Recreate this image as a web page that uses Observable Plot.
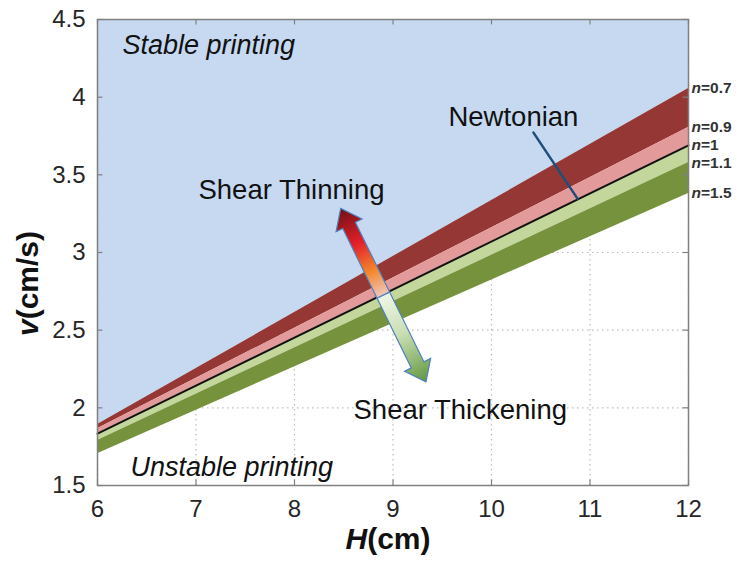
<!DOCTYPE html>
<html><head><meta charset="utf-8">
<script src="https://cdn.jsdelivr.net/npm/d3@7"></script>
<script src="https://cdn.jsdelivr.net/npm/@observablehq/plot@0.6"></script>
<style>
body{margin:0;background:#fff;}
#chart{width:739px;height:561px;}
</style>
</head><body><div id="chart"></div>
<script>
// ---- data ----
const H = [6, 12];                       // cm
const vN07 = [1.892, 4.056];             // n = 0.7
const vN09 = [1.866, 3.805];             // n = 0.9
const vN10 = [1.834, 3.689];             // n = 1 (Newtonian)
const vN11 = [1.789, 3.579];             // n = 1.1
const vN15 = [1.705, 3.380];             // n = 1.5
const nLabels = ["n=0.7", "n=0.9", "n=1", "n=1.1", "n=1.5"];
const xTicks = [6, 7, 8, 9, 10, 11, 12];
const yTicks = [1.5, 2, 2.5, 3, 3.5, 4, 4.5];
const yTickLabels = ["1.5", "2", "2.5", "3", "3.5", "4", "4.5"];
const vTop = 4.5;
const vBottom = 1.5;

const annoText = ["Stable printing", "Unstable printing", "Newtonian", "Shear Thinning", "Shear Thickening"];
const annoH = [6.254, 6.335, 9.563, 7.025, 8.599];
const annoV = [4.281, 1.564, 3.817, 3.347, 1.931];
const annoItalic = [true, true, false, false, false];

const pointerH = [10.426, 10.873];
const pointerV = [3.772, 3.347];

const arrowH = [8.474, 8.907, 9.340];   // top tip, middle, bottom tip
const arrowV = [3.281, 2.722, 2.164];

// ---- tables ----
const bands = H.map((h, i) => ({H: h, v07: vN07[i], v09: vN09[i], v10: vN10[i], v11: vN11[i], v15: vN15[i]}));
const seriesRight = [vN07, vN09, vN10, vN11, vN15];
const labelRows = nLabels.map((t, i) => ({t, H: H[1], v: seriesRight[i][1]}));
const annoRows = annoText.map((t, i) => ({t, H: annoH[i], v: annoV[i], italic: annoItalic[i]}));
const pointerRows = pointerH.map((h, i) => ({H: h, v: pointerV[i]}));

const FONT = "'Liberation Sans', Arial, Helvetica, sans-serif";

function doubleArrow(index, scales) {
  const X = arrowH.map(d => scales.x(d)), Y = arrowV.map(d => scales.y(d));
  const g = d3.create("svg:g");
  const defs = g.append("defs");
  const parts = [
    {from: [X[1], Y[1]], to: [X[0], Y[0]], id: "gradUp",
     stops: [[0, "#efc7bc"], [0.28, "#f3862c"], [0.6, "#e41f2b"], [1, "#6f1114"]]},
    {from: [X[1], Y[1]], to: [X[2], Y[2]], id: "gradDown",
     stops: [[0, "#eef6e6"], [0.45, "#c9deb3"], [1, "#62973f"]]}
  ];
  for (const p of parts) {
    const lg = defs.append("linearGradient").attr("id", p.id).attr("gradientUnits", "userSpaceOnUse")
      .attr("x1", p.from[0]).attr("y1", p.from[1]).attr("x2", p.to[0]).attr("y2", p.to[1]);
    for (const [o, c] of p.stops) lg.append("stop").attr("offset", o).attr("stop-color", c);
    const dx = p.to[0] - p.from[0], dy = p.to[1] - p.from[1], L = Math.hypot(dx, dy);
    const ux = dx / L, uy = dy / L, nx = -uy, ny = ux;
    const sw = 7, hw = 14.5, hl = 19;
    const bx = p.to[0] - ux * hl, by = p.to[1] - uy * hl;
    const pts = [
      [p.from[0] + nx * sw, p.from[1] + ny * sw],
      [bx + nx * sw, by + ny * sw],
      [bx + nx * hw, by + ny * hw],
      p.to,
      [bx - nx * hw, by - ny * hw],
      [bx - nx * sw, by - ny * sw],
      [p.from[0] - nx * sw, p.from[1] - ny * sw]
    ];
    g.append("polygon").attr("points", pts.map(q => q.join(",")).join(" "))
      .attr("fill", `url(#${p.id})`).attr("stroke", "#4f81bd").attr("stroke-width", 1.2)
      .attr("stroke-linejoin", "miter");
  }
  return g.node();
}

const chart = Plot.plot({
  width: 739, height: 561,
  marginLeft: 97, marginRight: 51, marginTop: 19, marginBottom: 76,
  style: {fontFamily: FONT, fontSize: "24px", color: "#262626", background: "#fff", overflow: "visible"},
  x: {domain: [6, 12]},
  y: {domain: [vBottom, vTop]},
  marks: [
    Plot.gridX(xTicks, {stroke: "#bdbdbd", strokeOpacity: 1, strokeDasharray: "1.5,3.5", strokeWidth: 1.2}),
    Plot.gridY(yTicks, {stroke: "#bdbdbd", strokeOpacity: 1, strokeDasharray: "1.5,3.5", strokeWidth: 1.2}),
    Plot.areaY(bands, {x: "H", y1: "v07", y2: () => vTop, fill: "#c6d9f1"}),
    Plot.areaY(bands, {x: "H", y1: "v09", y2: "v07", fill: "#953735"}),
    Plot.areaY(bands, {x: "H", y1: "v10", y2: "v09", fill: "#e39a9a"}),
    Plot.areaY(bands, {x: "H", y1: "v11", y2: "v10", fill: "#c3d69b"}),
    Plot.areaY(bands, {x: "H", y1: "v15", y2: "v11", fill: "#76923c"}),
    Plot.line(bands, {x: "H", y: "v10", stroke: "#111", strokeWidth: 2}),
    Plot.line(pointerRows, {x: "H", y: "v", stroke: "#1f4e79", strokeWidth: 2.5}),
    doubleArrow,
    Plot.frame({stroke: "#808080", strokeWidth: 1.5}),
    Plot.ruleY(yTicks, {x1: 6, x2: 6.055, stroke: "#808080", strokeWidth: 1.2}),
    Plot.ruleY(yTicks, {x1: 11.945, x2: 12, stroke: "#808080", strokeWidth: 1.2}),
    Plot.ruleX(xTicks, {y1: vBottom, y2: vBottom + 0.035, stroke: "#808080", strokeWidth: 1.2}),
    Plot.ruleX(xTicks, {y1: vTop - 0.035, y2: vTop, stroke: "#808080", strokeWidth: 1.2}),
    Plot.axisX(xTicks, {tickSize: 0, tickPadding: 14, label: null, fontSize: 24}),
    Plot.axisY(yTicks, {tickSize: 0, tickPadding: 12, label: null, fontSize: 24,
      tickFormat: d => yTickLabels[yTicks.indexOf(d)]}),
    Plot.text(labelRows, {x: "H", y: "v", text: "t", textAnchor: "start", dx: 3, fontSize: 15.5, fontWeight: "bold", fill: "#333"}),
    Plot.text(annoRows.filter(d => d.italic), {x: "H", y: "v", text: "t", textAnchor: "start", lineAnchor: "bottom", fontSize: 27, fontStyle: "italic", fill: "#111"}),
    Plot.text(annoRows.filter(d => !d.italic), {x: "H", y: "v", text: "t", textAnchor: "start", lineAnchor: "bottom", fontSize: 27.5, fill: "#111"}),
    Plot.text(["H(cm)"], {text: d => d, frameAnchor: "bottom", textAnchor: "middle", dx: -5, dy: 63, lineAnchor: "bottom", fontSize: 30, fontWeight: "bold", fill: "#111"}),
    Plot.text(["v(cm/s)"], {text: d => d, frameAnchor: "left", textAnchor: "middle", dx: -69, dy: 31, rotate: -90, lineAnchor: "middle", fontSize: 30, fontWeight: "bold", fill: "#111"})
  ]
});

// italic variable names (n, v, H)
d3.select(chart).selectAll("text").each(function () {
  const t = this.textContent;
  if (/^(n=|v\(|H\()/.test(t) && this.children.length === 0) {
    const first = t[0], rest = t.slice(1);
    this.textContent = "";
    d3.select(this).append("tspan").attr("font-style", "italic").text(first);
    d3.select(this).append("tspan").text(rest);
  }
});

document.getElementById("chart").append(chart);
</script>
</body></html>
